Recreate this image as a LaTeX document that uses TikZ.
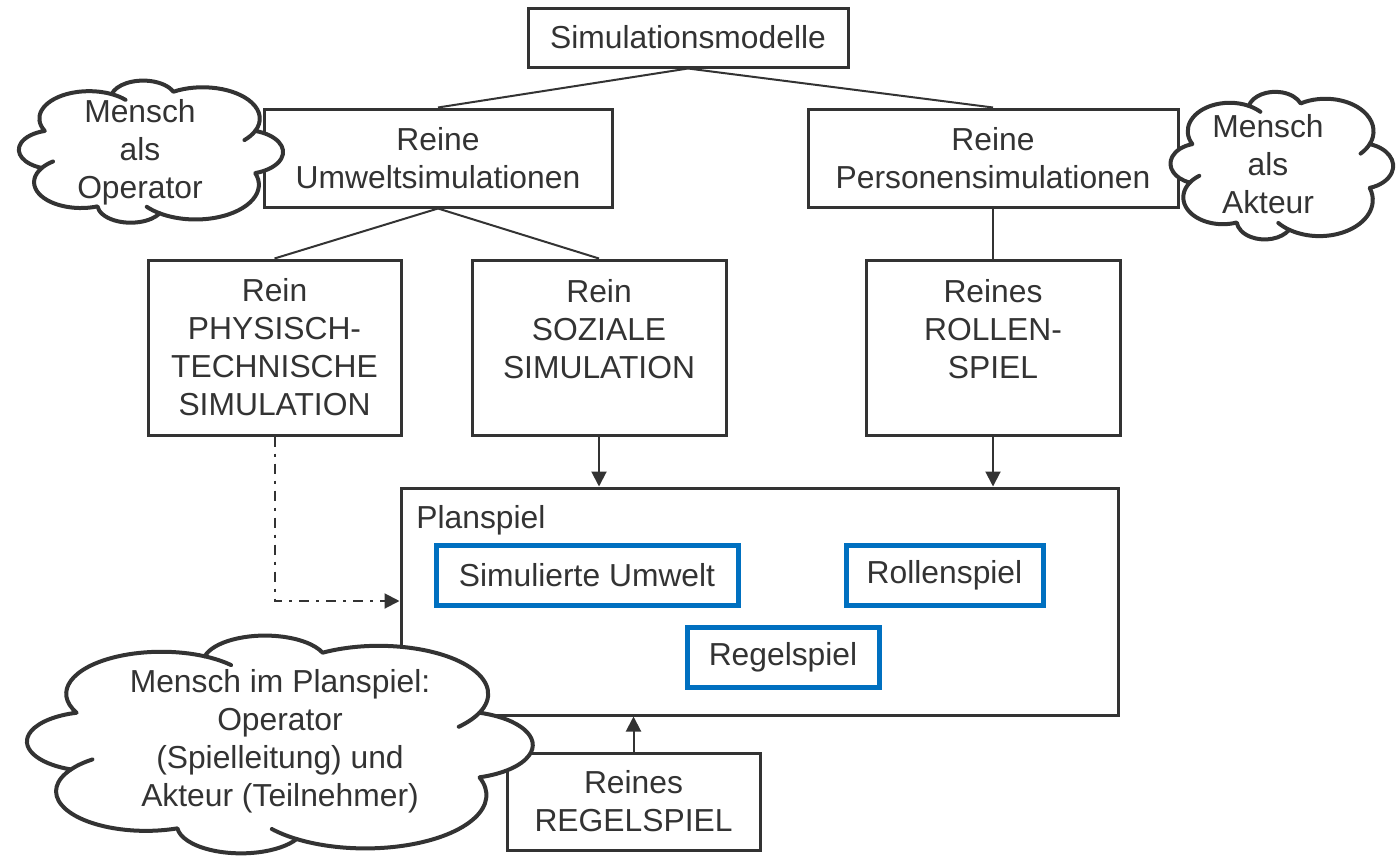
\documentclass[tikz,border=0pt]{standalone}
\usepackage{fontspec}
\setmainfont{Liberation Sans}
\usetikzlibrary{arrows.meta}
\definecolor{ink}{HTML}{333333}
\definecolor{blu}{HTML}{0070C0}
\begin{document}
\begin{tikzpicture}[x=0.5pt,y=-0.5pt,
  font=\fontsize{15.9}{19}\selectfont, text=ink,
  box/.style={draw=ink,line width=1.5pt,fill=white,align=center,inner sep=0pt},
  bbox/.style={draw=blu,line width=2.5pt,align=center,inner sep=0pt},
  link/.style={draw=ink,line width=1pt},
  arr/.style={draw=ink,line width=1pt,-{Triangle[length=7.5pt,width=7.5pt]}},
  dashdot/.style={draw=ink,line width=1pt,dash pattern=on 5pt off 3.5pt on 1.5pt off 3.5pt,-{Triangle[length=7.5pt,width=7.5pt]}},
  hook/.style={draw=ink,line width=2pt,line cap=round},
  wolkenform/.pic={
    \filldraw[fill=white,draw=ink,line width=2pt,line join=round] (20:0.8)
      foreach \a/\b in {20/85,85/118,118/165,165/200,200/250,250/282,282/340,340/380}
      { arc[start angle={(\a+\b)/2-72}, end angle={(\a+\b)/2+72}, radius={0.8*sin((\b-\a)/2)/sin(72)}] } -- cycle;
    \draw[hook] (85:0.8) arc[start angle=124.5, end angle=140.5, radius={0.8*sin(32.5)/sin(72)}];
    \draw[hook] (165:0.8) arc[start angle=213.5, end angle=233.5, radius={0.8*sin(23.5)/sin(72)}];
    \draw[hook] (250:0.8) arc[start angle=297, end angle=317, radius={0.8*sin(25)/sin(72)}];
    \draw[hook] (340:0.8) arc[start angle=383, end angle=403, radius={0.8*sin(29)/sin(72)}];
  }
]
\useasboundingbox (0,0) rectangle (1397,862);
\node[box,minimum width=160pt,minimum height=29.5pt] (top) at (688,37.5) {Simulationsmodelle};
\node[box,minimum width=174pt,minimum height=49pt] (umw) at (438,158) {Reine\\Umweltsimulationen};
\node[box,minimum width=185pt,minimum height=49pt] (pers) at (993,158) {Reine\\Personensimulationen};
\node[box,minimum width=126.5pt,minimum height=87.5pt] (phys) at (274.5,347.5) {Rein\\PHYSISCH-\\TECHNISCHE\\SIMULATION};
\node[box,minimum width=127pt,minimum height=87.5pt] (soz) at (599,347.5) {Rein\\SOZIALE\\SIMULATION\\~};
\node[box,minimum width=127pt,minimum height=87.5pt] (rol) at (993,347.5) {Reines\\ROLLEN-\\SPIEL\\~};
\node[box,minimum width=358.5pt,minimum height=113.5pt] (plan) at (759.5,601.5) {};
\node[anchor=west,inner sep=0pt] (planlbl) at (416,520) {Planspiel};
\node[bbox,minimum width=151pt,minimum height=30pt] (simu) at (587,575) {Simulierte Umwelt};
\node[bbox,minimum width=98.5pt,minimum height=30pt] (rollen) at (944.5,575) {Rollenspiel};
\node[bbox,minimum width=96pt,minimum height=30pt] (regel) at (783,657) {Regelspiel};
\node[box,minimum width=126.5pt,minimum height=48.5pt] (rreg) at (633.5,801.5) {Reines\\REGELSPIEL};
\draw[link] (top.south) -- (umw.north);
\draw[link] (top.south) -- (pers.north);
\draw[link] (umw.south) -- (phys.north);
\draw[link] (umw.south) -- (soz.north);
\draw[link] (pers.south) -- (rol.north);
\draw[arr] (soz.south) -- (soz.south |- plan.north);
\draw[arr] (rol.south) -- (rol.south |- plan.north);
\draw[arr] (rreg.north) -- (rreg.north |- plan.south);
\coordinate (bend) at (274.5,601);
\draw[dashdot] (phys.south) -- (bend) -- (plan.west |- bend);
\pic[xscale=140,yscale=77] at (150,152) {wolkenform};
\node[align=center,inner sep=0pt] (t1) at (140,152) {Mensch\\als\\Operator};
\pic[xscale=118,yscale=80] at (1281,166) {wolkenform};
\node[align=center,inner sep=0pt] (t2) at (1268,164) {Mensch\\als\\Akteur};
\pic[xscale=268,yscale=118] at (278,745) {wolkenform};
\node[align=center,inner sep=0pt] (t3) at (280,741) {Mensch im Planspiel:\\Operator\\(Spielleitung) und\\Akteur (Teilnehmer)};
\end{tikzpicture}
\end{document}
